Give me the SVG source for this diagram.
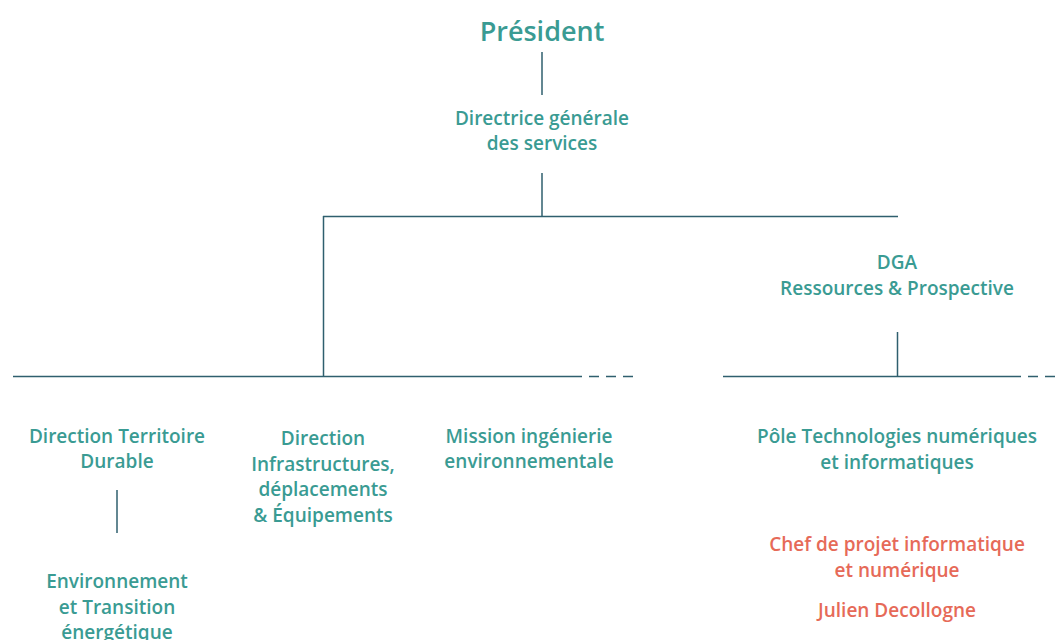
<svg xmlns="http://www.w3.org/2000/svg" width="1060" height="640" viewBox="0 0 1060 640">
  <style>
    .t { font-family: "Open Sans", "Liberation Sans", sans-serif; font-size: 19px; font-weight: 600; fill: #3a9b93; text-anchor: middle; }
    .top { font-size: 27px; font-weight: 600; }
    .hl { fill: #e66a58; }
    .ln { stroke: #2f5f6e; stroke-width: 1.5; fill: none; }
    .dash { stroke-dasharray: 10 7; }
  </style>
  <rect width="1060" height="640" fill="#ffffff"/>

  <g id="connectors">
    <line class="ln" x1="542" y1="52" x2="542" y2="95"/>
    <line class="ln" x1="542" y1="173" x2="542" y2="216"/>
    <line class="ln" x1="323" y1="216.5" x2="898" y2="216.5"/>
    <line class="ln" x1="323.5" y1="216" x2="323.5" y2="376"/>
    <line class="ln" x1="897.5" y1="332" x2="897.5" y2="376"/>
    <line class="ln" x1="13" y1="376.5" x2="582" y2="376.5"/>
    <line class="ln dash" x1="589" y1="376.5" x2="640" y2="376.5"/>
    <line class="ln" x1="723" y1="376.5" x2="1021" y2="376.5"/>
    <line class="ln dash" x1="1028" y1="376.5" x2="1060" y2="376.5"/>
    <line class="ln" x1="117" y1="490" x2="117" y2="533"/>
  </g>

  <g id="president">
    <text class="t top" x="542" y="41">Président</text>
  </g>
  <g id="dgs">
    <text class="t" x="542" y="125">Directrice générale</text>
    <text class="t" x="542" y="150">des services</text>
  </g>
  <g id="dga">
    <text class="t" x="897" y="269">DGA</text>
    <text class="t" x="897" y="295">Ressources &amp; Prospective</text>
  </g>
  <g id="dtd">
    <text class="t" x="117" y="443">Direction Territoire</text>
    <text class="t" x="117" y="468">Durable</text>
  </g>
  <g id="dide">
    <text class="t" x="323" y="445">Direction</text>
    <text class="t" x="323" y="471">Infrastructures,</text>
    <text class="t" x="323" y="496">déplacements</text>
    <text class="t" x="323" y="522">&amp; Équipements</text>
  </g>
  <g id="mie">
    <text class="t" x="529" y="443">Mission ingénierie</text>
    <text class="t" x="529" y="468">environnementale</text>
  </g>
  <g id="ete">
    <text class="t" x="117" y="588">Environnement</text>
    <text class="t" x="117" y="614">et Transition</text>
    <text class="t" x="117" y="639">énergétique</text>
  </g>
  <g id="ptni">
    <text class="t" x="897" y="443">Pôle Technologies numériques</text>
    <text class="t" x="897" y="469">et informatiques</text>
  </g>
  <g id="cpin">
    <text class="t hl" x="897" y="551">Chef de projet informatique</text>
    <text class="t hl" x="897" y="577">et numérique</text>
    <text class="t hl" x="897" y="617">Julien Decollogne</text>
  </g>
</svg>
